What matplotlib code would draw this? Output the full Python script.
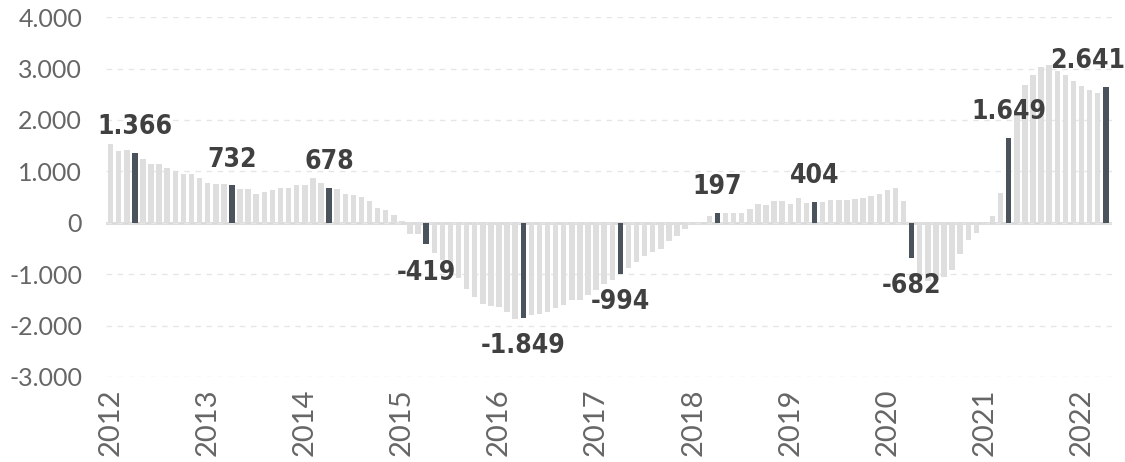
import numpy as np
import matplotlib
matplotlib.use("Agg")
from matplotlib import pyplot as plt
from matplotlib.ticker import FuncFormatter

# monthly values, Jan 2012 .. Apr 2022
values = [
    1527, 1397, 1410, 1366, 1241, 1151, 1151, 1060, 1008, 950, 950, 866,      # 2012
    775, 749, 749, 732, 658, 665, 560, 593, 646, 677, 677, 730,               # 2013
    730, 866, 768, 678, 652, 560, 535, 502, 418, 288, 257, 152,               # 2014
    30, -224, -224, -419, -580, -716, -891, -1073, -1294, -1443, -1572, -1618, # 2015
    -1638, -1735, -1877, -1849, -1786, -1767, -1730, -1657, -1605, -1508, -1508, -1410,  # 2016
    -1313, -1183, -1119, -994, -879, -762, -646, -568, -502, -360, -257, -118,  # 2017
    -15, 5, 132, 197, 185, 185, 190, 263, 373, 354, 418, 418,                 # 2018
    373, 483, 393, 404, 399, 451, 451, 444, 470, 483, 529, 554,               # 2019
    632, 677, 418, -682, -1086, -1132, -1119, -1054, -910, -613, -340, -198,  # 2020
    -29, 126, 580, 1649, 2100, 2675, 2870, 3031, 3064, 2947, 2883, 2753,      # 2021
    2656, 2591, 2525, 2641,                                                   # 2022
]
highlight_month = 4  # April

n = len(values)
months = [(2012 + i // 12, i % 12 + 1) for i in range(n)]
x = np.arange(n)
is_hl = [m == highlight_month for (_, m) in months]

LIGHT = "#dedede"
DARK = "#4a535c"
TEXT = "#404040"
TICK = "#666666"

fig = plt.figure(figsize=(11.25, 4.62), dpi=100)
ax = fig.add_axes([0.094, 0.184, 0.894, 0.779])

colors = [DARK if h else LIGHT for h in is_hl]
ax.bar(x, values, width=0.68, color=colors, zorder=2)

ax.set_ylim(-3000, 4000)
ax.set_xlim(-0.6, n - 0.3)
ax.set_yticks(range(-3000, 4001, 1000))
ax.yaxis.set_major_formatter(FuncFormatter(lambda v, p: f"{int(v):,}".replace(",", ".")))

ax.grid(axis="y", color="#e6e6e6", linestyle=(0, (4, 4)), linewidth=1, zorder=0)
ax.axhline(0, color="#d9d9d9", linewidth=2, zorder=1)

jan_idx = [i for i, (y, m) in enumerate(months) if m == 1]
ax.set_xticks(jan_idx)
ax.set_xticklabels([str(months[i][0]) for i in jan_idx], rotation=90,
                   fontsize=21, color=TICK, family="Lato")
for lab in ax.get_yticklabels():
    lab.set_fontsize(18)
    lab.set_color(TICK)
    lab.set_family("Lato")

ax.tick_params(axis="both", length=0)
ax.tick_params(axis="y", pad=17)
ax.tick_params(axis="x", pad=8)
for s in ax.spines.values():
    s.set_visible(False)

# labels on highlighted bars
for i in x[is_hl]:
    v = values[i]
    txt = f"{v:,}".replace(",", ".")
    dx = -13 if i == n - 1 else 0
    if v >= 0:
        ax.annotate(txt, (i, v), xytext=(dx, 9), textcoords="offset points",
                    ha="center", va="bottom", fontsize=19, fontweight="bold",
                    family="DejaVu Sans", fontstretch="condensed", color=TEXT, zorder=3)
    else:
        ax.annotate(txt, (i, v), xytext=(dx, -11), textcoords="offset points",
                    ha="center", va="top", fontsize=19, fontweight="bold",
                    family="DejaVu Sans", fontstretch="condensed", color=TEXT, zorder=3)

fig.savefig("out.png", dpi=100)
